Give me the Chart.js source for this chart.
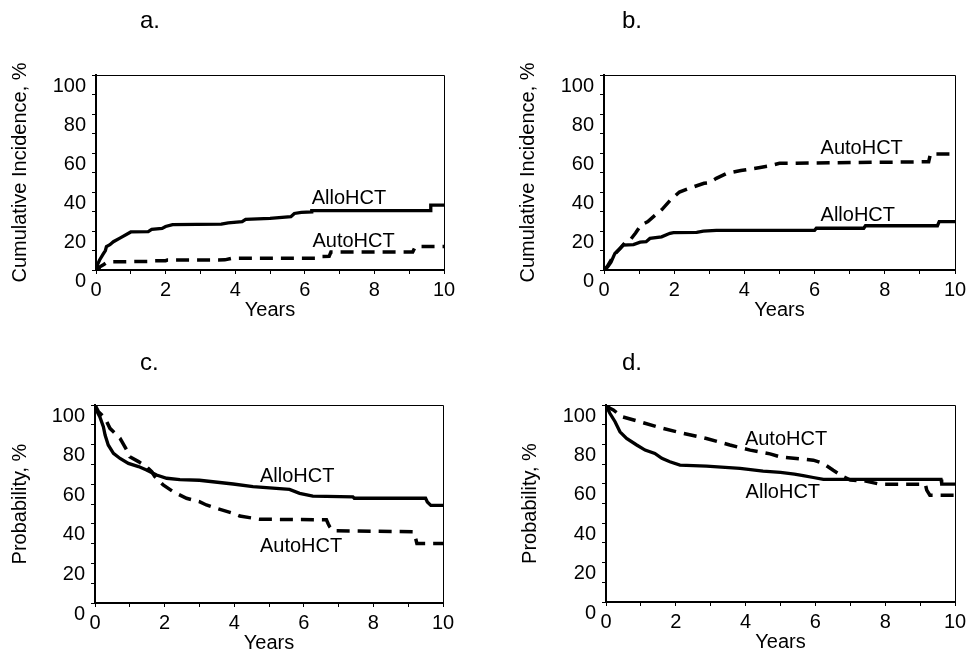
<!DOCTYPE html>
<html>
<head>
<meta charset="utf-8">
<script src="https://cdn.jsdelivr.net/npm/chart.js@4.4.0/dist/chart.umd.min.js"></script>
<style>
  body { margin: 0; background: #fff; }
  #wrap { position: relative; width: 971px; height: 658px; overflow: hidden; }
  #wrap canvas { position: absolute; }
</style>
</head>
<body>
<div id="wrap">
  <canvas id="chartA" width="480" height="329" style="left:0px;top:0px"></canvas>
  <canvas id="chartB" width="480" height="329" style="left:508px;top:0px"></canvas>
  <canvas id="chartC" width="480" height="329" style="left:0px;top:329px"></canvas>
  <canvas id="chartD" width="480" height="329" style="left:510px;top:329px"></canvas>
</div>
<script>
// values (years, percent); a repeated year is a visible step

// a. cumulative incidence
var aAlloYears = [0, 0.05, 0.1, 0.2, 0.27, 0.3, 0.4, 0.5, 0.7, 1.0, 1.5, 1.6, 1.9, 2.0, 2.2, 3.6, 3.8, 4.2, 4.3, 5.0, 5.6, 5.7, 5.9, 6.2, 6.2, 9.6, 9.62, 10];
var aAlloPct = [0, 3, 5, 8, 10, 12, 13, 14.5, 16.5, 19.5, 19.7, 20.8, 21.3, 22.3, 23.3, 23.5, 24.2, 24.8, 26, 26.5, 27.3, 29, 29.6, 29.8, 30.5, 30.5, 33.3, 33.3];
var aAutoYears = [0, 0.08, 0.1, 0.2, 0.3, 0.4, 1.5, 1.55, 2.0, 2.05, 3.7, 3.9, 6.3, 6.4, 6.7, 6.75, 9.1, 9.15, 9.2, 10];
var aAutoPct = [0, 0, 1.5, 2.5, 3.8, 4.2, 4.4, 4.7, 4.8, 5.1, 5.2, 6, 6, 6.9, 7, 9.2, 9.2, 11, 12, 12];

// b. cumulative incidence
var bAlloYears = [0, 0.1, 0.2, 0.31, 0.46, 0.55, 0.84, 1.03, 1.2, 1.31, 1.64, 1.88, 1.98, 2.64, 2.83, 3.2, 6.0, 6.05, 7.4, 7.45, 9.5, 9.55, 10];
var bAlloPct = [0, 1.5, 4, 8.5, 11, 12.8, 13, 14.3, 14.5, 16.2, 17, 18.8, 19.2, 19.3, 19.9, 20.3, 20.3, 21.4, 21.4, 22.7, 22.7, 24.8, 24.8];
var bAutoYears = [0, 0.1, 0.3, 0.45, 0.6, 0.75, 0.9, 1.05, 1.25, 1.45, 1.65, 1.9, 2.15, 2.45, 2.85, 3.0, 3.2, 3.5, 3.9, 4.45, 4.65, 5.0, 9.25, 9.3, 10];
var bAutoPct = [0, 2, 8, 11, 14, 15.5, 19, 23, 24.8, 28, 31, 36, 40, 42, 44.5, 44.8, 47, 49.6, 51, 52.6, 53.2, 54.7, 55.5, 59.5, 59.5];

// c. probability
var cAlloYears = [0, 0.05, 0.14, 0.24, 0.29, 0.38, 0.53, 0.72, 0.96, 1.25, 1.48, 1.77, 2.06, 2.44, 3.0, 3.97, 4.54, 5.59, 5.88, 6.26, 7.41, 7.45, 9.5, 9.55, 9.65, 10];
var cAlloPct = [100, 97, 94, 89, 84.8, 79.8, 75.6, 73, 70.5, 68.9, 67.2, 64.6, 63, 62.3, 62, 60.1, 58.8, 57.4, 55.4, 54, 53.6, 52.9, 52.9, 51, 49.3, 49.3];
var cAutoYears = [0, 0.1, 0.29, 0.43, 0.53, 0.72, 0.91, 1.0, 1.25, 1.48, 1.63, 1.72, 1.96, 2.25, 2.63, 3.0, 3.2, 3.49, 3.97, 4.16, 4.73, 6.65, 6.7, 6.74, 6.84, 9.14, 9.2, 9.25, 10];
var cAutoPct = [100, 96.6, 93.3, 88.2, 86.5, 83.2, 77.3, 73.9, 71.4, 68.9, 66.3, 63.8, 59.6, 56.2, 52.9, 51.2, 49.5, 47.8, 45.3, 43.9, 42.3, 42, 40, 38.6, 36.5, 36, 33.5, 30.1, 30.1];

// d. probability
var dAlloYears = [0, 0.05, 0.11, 0.26, 0.4, 0.59, 0.88, 1.12, 1.4, 1.6, 1.83, 2.12, 2.88, 3.84, 4.5, 5.0, 5.4, 5.65, 5.94, 6.23, 9.6, 9.62, 10];
var dAlloPct = [100, 98, 95.8, 91.5, 86.4, 83, 79.7, 77.1, 75.4, 72.9, 71.2, 69.5, 69, 67.8, 66.4, 65.8, 64.9, 64.2, 63.2, 62.2, 62.2, 59.8, 59.8];
var dAutoYears = [0, 0.1, 0.21, 0.45, 0.97, 1.45, 2.02, 2.88, 3.55, 4.13, 4.7, 4.99, 5.94, 6.23, 6.51, 6.8, 7.0, 7.4, 7.85, 9.15, 9.19, 9.28, 10];
var dAutoPct = [100, 98.5, 97.5, 94.1, 91.5, 89, 86.4, 83, 79.7, 77.1, 75.2, 73.7, 72, 70.3, 66.9, 63.6, 61.9, 61.5, 59.8, 59.8, 56.8, 54.2, 54.2];

// tick labels
var xTickLabels = [0, 2, 4, 6, 8, 10];
var yTickLabels = [0, 20, 40, 60, 80, 100];

var FONT = '"Liberation Sans", Arial, sans-serif';
Chart.defaults.font.family = FONT;
Chart.defaults.font.size = 20;
Chart.defaults.color = "#000";

function toPoints(xs, ys) {
  return xs.map(function (t, i) {
    return { x: t, y: ys[i] };
  });
}

// box around the plot + panel letter + curve names
var extras = {
  id: "extras",
  afterDatasetsDraw: function (chart, args, opts) {
    var ctx = chart.ctx;
    var a = chart.chartArea;
    ctx.save();
    ctx.strokeStyle = "#000";
    ctx.lineWidth = 1;
    ctx.beginPath();
    ctx.moveTo(a.left, a.top + 0.5);
    ctx.lineTo(a.right + 0.5, a.top + 0.5);
    ctx.lineTo(a.right + 0.5, a.bottom);
    ctx.stroke();

    ctx.fillStyle = "#000";
    ctx.font = "20px " + FONT;
    ctx.textAlign = "left";
    ctx.textBaseline = "middle";
    opts.notes.forEach(function (n) {
      ctx.fillText(n.text, chart.scales.x.getPixelForValue(n.t), chart.scales.y.getPixelForValue(n.v));
    });

    ctx.font = "24px " + FONT;
    ctx.textBaseline = "alphabetic";
    ctx.fillText(opts.tag, opts.tagX, opts.tagY);
    ctx.restore();
  },
};

function makePanel(p) {
  var W = 480, H = 329;
  new Chart(document.getElementById(p.id), {
    type: "line",
    data: {
      datasets: [
        {
          label: "AlloHCT",
          data: toPoints(p.allo[0], p.allo[1]),
          borderColor: "#000",
          borderWidth: 3.3,
          pointRadius: 0,
          tension: 0,
          fill: false,
        },
        {
          label: "AutoHCT",
          data: toPoints(p.auto[0], p.auto[1]),
          borderColor: "#000",
          borderWidth: 3.5,
          borderDash: [13, 8],
          pointRadius: 0,
          tension: 0,
          fill: false,
        },
      ],
    },
    options: {
      responsive: false,
      animation: false,
      layout: { padding: { left: 0, bottom: 0, top: p.area.top, right: W - p.area.right } },
      plugins: {
        legend: { display: false },
        tooltip: { enabled: false },
        extras: { notes: p.notes, tag: p.tag, tagX: p.tagX, tagY: p.tagY },
      },
      scales: {
        x: {
          type: "linear",
          min: 0,
          max: 10,
          afterFit: function (s) { s.height = H - p.area.bottom; },
          grid: { drawOnChartArea: false, drawTicks: true, tickLength: 4, color: "#000", lineWidth: 1 },
          border: { color: "#000", width: 2 },
          ticks: {
            stepSize: 1,
            autoSkip: false,
            maxRotation: 0,
            padding: 4,
            callback: function (v) { return xTickLabels.indexOf(v) >= 0 ? String(v) : ""; },
          },
          title: { display: true, text: "Years", padding: { top: 0, bottom: H - p.area.bottom - 40 - 12 } },
        },
        y: {
          min: 0,
          max: 100,
          afterFit: function (s) { s.width = p.area.left; },
          grid: { drawOnChartArea: false, drawTicks: true, tickLength: 4, color: "#000", lineWidth: 1 },
          border: { color: "#000", width: 2 },
          ticks: {
            stepSize: 10,
            autoSkip: false,
            padding: 6,
            labelOffset: 11,
            callback: function (v) { return yTickLabels.indexOf(v) >= 0 ? String(v) : ""; },
          },
          title: { display: true, text: p.yTitle, padding: { top: 8, bottom: 0 } },
        },
      },
    },
    plugins: [extras],
  });
}

makePanel({
  id: "chartA", tag: "a.", tagX: 140, tagY: 28,
  yTitle: "Cumulative Incidence, %",
  allo: [aAlloYears, aAlloPct], auto: [aAutoYears, aAutoPct],
  area: { left: 96, right: 444, top: 75, bottom: 270 },
  notes: [{ text: "AlloHCT", t: 6.2, v: 36.9 }, { text: "AutoHCT", t: 6.22, v: 14.4 }],
});
makePanel({
  id: "chartB", tag: "b.", tagX: 114, tagY: 28,
  yTitle: "Cumulative Incidence, %",
  allo: [bAlloYears, bAlloPct], auto: [bAutoYears, bAutoPct],
  area: { left: 96, right: 447, top: 75, bottom: 270 },
  notes: [{ text: "AutoHCT", t: 6.17, v: 62.4 }, { text: "AlloHCT", t: 6.17, v: 27.9 }],
});
makePanel({
  id: "chartC", tag: "c.", tagX: 140, tagY: 41,
  yTitle: "Probability, %",
  allo: [cAlloYears, cAlloPct], auto: [cAutoYears, cAutoPct],
  area: { left: 95, right: 443, top: 76, bottom: 274 },
  notes: [{ text: "AlloHCT", t: 4.74, v: 63.8 }, { text: "AutoHCT", t: 4.74, v: 28.4 }],
});
makePanel({
  id: "chartD", tag: "d.", tagX: 112, tagY: 41,
  yTitle: "Probability, %",
  allo: [dAlloYears, dAlloPct], auto: [dAutoYears, dAutoPct],
  area: { left: 96, right: 445, top: 76, bottom: 273 },
  notes: [{ text: "AutoHCT", t: 3.98, v: 82.6 }, { text: "AlloHCT", t: 4.0, v: 55.4 }],
});
</script>
</body>
</html>
